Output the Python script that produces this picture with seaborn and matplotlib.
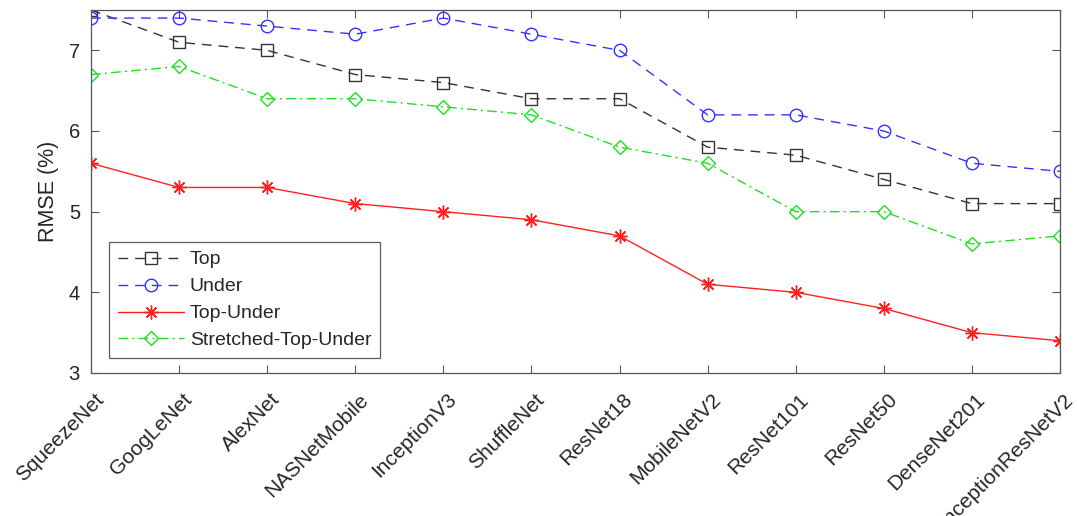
import matplotlib
matplotlib.use("Agg")
import matplotlib.pyplot as plt
from matplotlib.transforms import ScaledTranslation
import seaborn as sns
import pandas as pd
import numpy as np

models = ["SqueezeNet", "GoogLeNet", "AlexNet", "NASNetMobile", "InceptionV3",
          "ShuffleNet", "ResNet18", "MobileNetV2", "ResNet101", "ResNet50",
          "DenseNet201", "InceptionResNetV2"]
top = [7.5, 7.1, 7.0, 6.7, 6.6, 6.4, 6.4, 5.8, 5.7, 5.4, 5.1, 5.1]
under = [7.4, 7.4, 7.3, 7.2, 7.4, 7.2, 7.0, 6.2, 6.2, 6.0, 5.6, 5.5]
top_under = [5.6, 5.3, 5.3, 5.1, 5.0, 4.9, 4.7, 4.1, 4.0, 3.8, 3.5, 3.4]
stretched = [6.7, 6.8, 6.4, 6.4, 6.3, 6.2, 5.8, 5.6, 5.0, 5.0, 4.6, 4.7]

sns.set_style("white")
plt.rcParams['font.family'] = ['Liberation Sans', 'DejaVu Sans']

fig = plt.figure(figsize=(10.77, 5.16), dpi=100)
ax = fig.add_axes([91/1077, 1-373/516, (1060-91)/1077, (373-10)/516])

pos = np.arange(len(models))
df = pd.DataFrame({"pos": pos, "Top": top, "Under": under,
                   "Top-Under": top_under, "Stretched-Top-Under": stretched})

styles = [
    ("Top", "#333333", (0, (7, 5)), "s", 8),
    ("Under", "#3333ff", (0, (7, 5)), "o", 9),
    ("Top-Under", "#ff2020", "-", (8, 2, 0), 10),
    ("Stretched-Top-Under", "#22dd22", (0, (7, 3, 1.5, 3)), "D", 7.5),
]
for name, col, ls, mk, ms in styles:
    sns.lineplot(data=df, x="pos", y=name, ax=ax, color=col, linestyle=ls,
                 marker=mk, markersize=ms, markerfacecolor="none",
                 markeredgecolor=col, markeredgewidth=1.0, linewidth=1.0,
                 label=name)

ax.set_xlim(0, len(models) - 1)
ax.set_ylim(3, 7.5)
ax.set_yticks([3, 4, 5, 6, 7])
ax.set_xticks(pos)
ax.set_xticklabels(models, rotation=45, ha="right", va="center",
                   rotation_mode="anchor", fontsize=15, color="#262626")
ax.tick_params(axis="y", labelsize=14.5, labelcolor="#262626", pad=8)
ax.tick_params(direction="in", length=6, width=0.8, color="#555555",
               top=True, right=True, left=True, bottom=True)
ax.tick_params(axis="x", pad=17)
off = ScaledTranslation(10/100, 0, fig.dpi_scale_trans)
for lab in ax.get_xticklabels():
    lab.set_transform(lab.get_transform() + off)
ax.set_xlabel("")
ax.set_ylabel("RMSE (%)", fontsize=15.5, color="#262626", labelpad=7)
for s in ax.spines.values():
    s.set_color("#555555")
    s.set_linewidth(0.9)

leg = ax.legend(loc="lower left", bbox_to_anchor=(18/969, 15/363),
                borderaxespad=0, fontsize=14, frameon=True, fancybox=False,
                handlelength=3.4, handletextpad=0.3, borderpad=0.45,
                labelspacing=0.48)
leg.get_frame().set_edgecolor("#333333")
leg.get_frame().set_linewidth(0.9)

fig.savefig("out.png", dpi=100)
